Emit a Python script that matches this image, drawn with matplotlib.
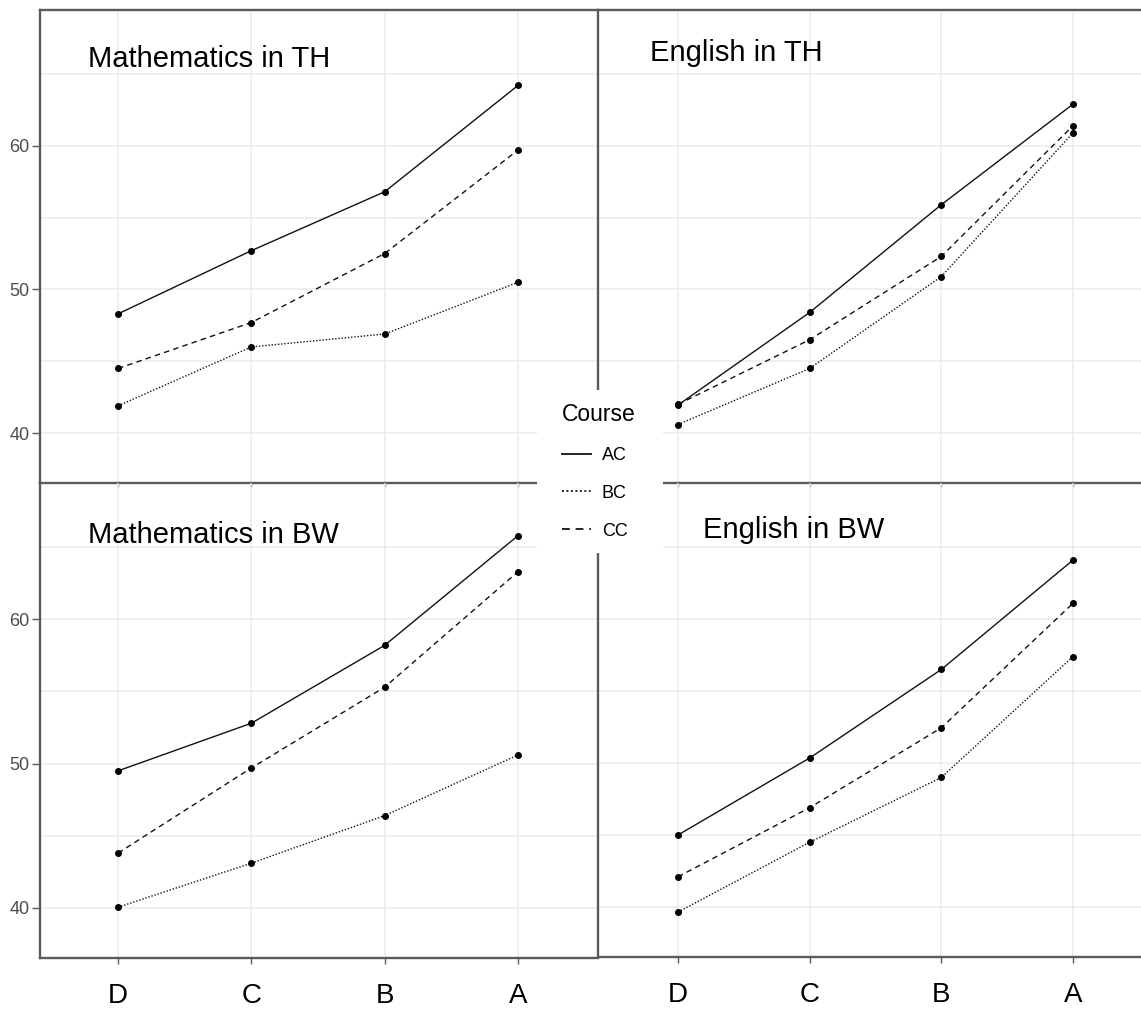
import matplotlib.pyplot as plt
from matplotlib.lines import Line2D
from matplotlib.patches import Rectangle

plt.rcParams["font.family"] = ["Liberation Sans", "DejaVu Sans"]

grades = ["D", "C", "B", "A"]
courses = ["AC", "BC", "CC"]

math_th = {"AC": [48.3, 52.7, 56.8, 64.2],
           "BC": [41.9, 46.0, 46.9, 50.5],
           "CC": [44.5, 47.7, 52.5, 59.7]}
eng_th = {"AC": [41.95, 48.4, 55.9, 62.9],
          "BC": [40.6, 44.5, 50.9, 60.9],
          "CC": [42.0, 46.5, 52.3, 61.4]}
math_bw = {"AC": [49.5, 52.8, 58.2, 65.8],
           "BC": [40.05, 43.1, 46.4, 50.6],
           "CC": [43.8, 49.7, 55.3, 63.3]}
eng_bw = {"AC": [45.0, 50.35, 56.5, 64.1],
          "BC": [39.65, 44.5, 49.0, 57.4],
          "CC": [42.1, 46.9, 52.45, 61.1]}

styles = {"AC": "-", "BC": (0, (1, 1.3)), "CC": (0, (4, 3))}

W, H = 1141, 1010
SPINE = "#5a5a5a"
GRID = "#ebebeb"


def px_rect(x0, y0, x1, y1):
    return [x0 / W, 1 - y1 / H, (x1 - x0) / W, (y1 - y0) / H]


def draw_panel(ax, data, xlim, show_ylab, show_xlab, top_spine):
    x = list(range(len(grades)))
    for c in courses:
        ax.plot(x, data[c], color="#111111", linestyle=styles[c], linewidth=1.0,
                marker="o", markersize=4, markerfacecolor="black",
                markeredgecolor="black", zorder=3)
    ax.set_xlim(*xlim)
    ax.set_ylim(36.53, 69.45)
    ax.set_xticks(x)
    ax.set_yticks([40, 50, 60])
    ax.set_yticks([45, 55, 65], minor=True)
    ax.grid(True, which="both", color=GRID, linewidth=1.1, zorder=0)
    for s in ["left", "bottom", "top"]:
        ax.spines[s].set_color(SPINE)
        ax.spines[s].set_linewidth(1.7)
    ax.spines["right"].set_visible(False)
    ax.spines["top"].set_visible(top_spine)
    ax.tick_params(axis="y", which="minor", length=0)
    if show_ylab:
        ax.tick_params(axis="y", which="major", length=5.5, width=1, color=SPINE,
                       labelsize=13, labelcolor="#4d4d4d", pad=2)
    else:
        ax.tick_params(axis="y", which="major", length=0, labelleft=False)
    if show_xlab:
        ax.set_xticklabels(grades)
        ax.tick_params(axis="x", length=4, width=1, color=SPINE, labelsize=20, pad=14)
    else:
        ax.tick_params(axis="x", length=3, width=1, color=SPINE, labelbottom=False)
    # transparent background so the neighbouring spines are not covered
    ax.set_facecolor("none")


fig = plt.figure(figsize=(W / 100, H / 100), dpi=100)

xl_left = (-(118 - 40) / 133.3, 3 + (598 - 518) / 133.3)
xl_right = (-(678 - 598) / 131.8, 3 + (1141 - 1073) / 131.8)

ax1 = fig.add_axes(px_rect(40, 10, 598, 483))
draw_panel(ax1, math_th, xl_left, True, False, True)
ax2 = fig.add_axes(px_rect(598, 10, 1141, 483))
draw_panel(ax2, eng_th, xl_right, False, False, True)
ax3 = fig.add_axes(px_rect(40, 483, 598, 958))
draw_panel(ax3, math_bw, xl_left, True, True, False)
ax4 = fig.add_axes(px_rect(598, 483, 1141, 957))
draw_panel(ax4, eng_bw, xl_right, False, True, False)

title_kw = dict(fontsize=21, color="black", va="baseline", ha="left", zorder=10)
fig.text(88 / W, 1 - 67 / H, "Mathematics in TH", **title_kw)
fig.text(650 / W, 1 - 61 / H, "English in TH", **title_kw)
fig.text(88 / W, 1 - 543 / H, "Mathematics in BW", **title_kw)
fig.text(703 / W, 1 - 538 / H, "English in BW", **title_kw)

# white box behind the legend, covering the panel corners
box = Rectangle((537 / W, 1 - 553 / H), (663 - 537) / W, (553 - 390) / H,
                transform=fig.transFigure, facecolor="white", edgecolor="none", zorder=5)
fig.patches.append(box)

handles = [Line2D([], [], color="#222222", linestyle=styles[c], linewidth=1.4) for c in courses]
leg = fig.legend(handles, courses, title="Course", loc="upper left",
                 bbox_to_anchor=(546 / W, 1 - 387 / H), frameon=False,
                 fontsize=13, title_fontsize=16.5, handlelength=1.6, handletextpad=0.6,
                 labelspacing=1.15, alignment="left")
leg.set_zorder(6)

fig.savefig("out.png", dpi=100)
